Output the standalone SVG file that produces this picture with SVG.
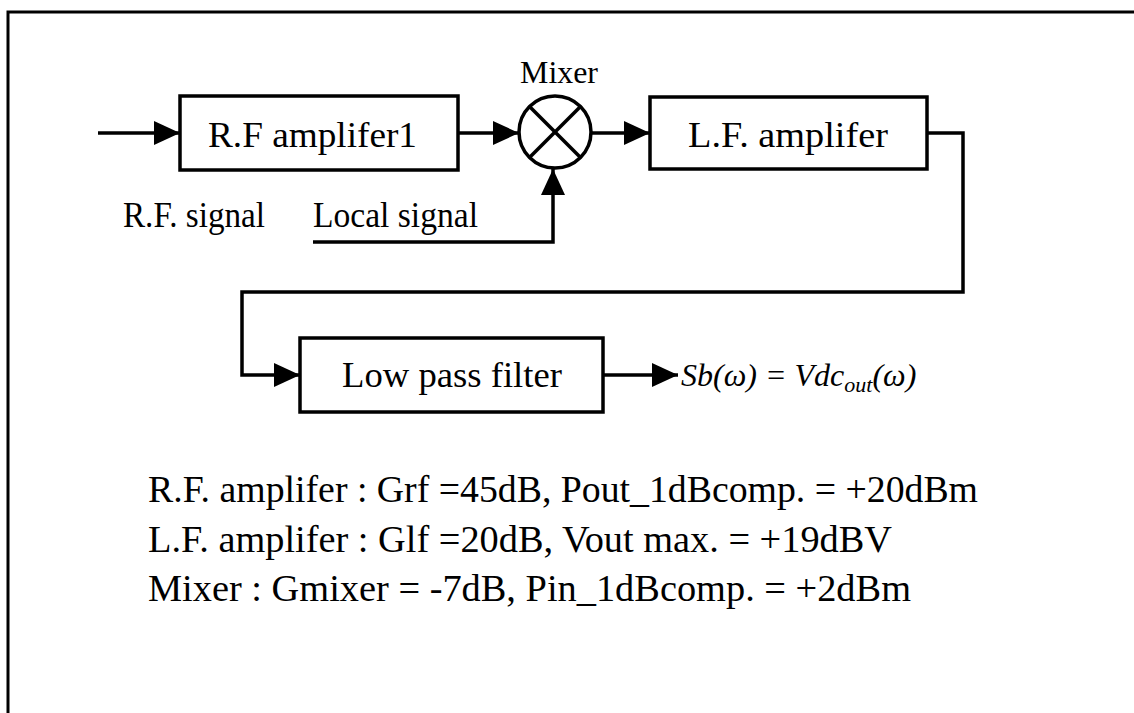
<svg xmlns="http://www.w3.org/2000/svg" width="1134" height="713" viewBox="0 0 1134 713">
<defs>
<style>
.box{fill:#fff;stroke:#000;stroke-width:3.5}
.ln{fill:none;stroke:#000;stroke-width:3.5}
.t{font-family:"Liberation Serif","Times New Roman",serif;font-size:36px;fill:#000}
.s{font-family:"Liberation Serif","Times New Roman",serif;font-size:38px;fill:#000}
.m{font-family:"Liberation Serif","Times New Roman",serif;font-size:32px;fill:#000}
.it{font-family:"Liberation Serif","Times New Roman",serif;font-size:32px;font-style:italic;fill:#000}
</style>
<marker id="ah" markerWidth="26" markerHeight="24" refX="26" refY="12" orient="auto" markerUnits="userSpaceOnUse">
<path d="M0,0 L26,12 L0,24 Z" fill="#000"/>
</marker>
</defs>
<rect width="1134" height="713" fill="#fff"/>
<rect x="8" y="12" width="1140" height="720" fill="none" stroke="#000" stroke-width="3"/>
<g id="connectors">
<line class="ln" x1="98" y1="133" x2="180" y2="133" marker-end="url(#ah)"/>
<line class="ln" x1="458" y1="133" x2="519" y2="133" marker-end="url(#ah)"/>
<line class="ln" x1="592" y1="133" x2="650" y2="133" marker-end="url(#ah)"/>
<polyline class="ln" points="313,242 553,242 553,169" marker-end="url(#ah)"/>
<polyline class="ln" points="927,133 963,133 963,292 242,292 242,375 300,375" marker-end="url(#ah)"/>
<line class="ln" x1="603" y1="375" x2="678" y2="375" marker-end="url(#ah)"/>
</g>
<g id="rf-amp">
<rect class="box" x="180" y="96" width="278" height="74"/>
<text class="t" x="208" y="147" textLength="209" lengthAdjust="spacingAndGlyphs">R.F amplifer1</text>
</g>
<g id="mixer">
<circle class="box" cx="555" cy="132" r="36"/>
<line class="ln" x1="529.5" y1="106.5" x2="580.5" y2="157.5"/>
<line class="ln" x1="580.5" y1="106.5" x2="529.5" y2="157.5"/>
<text class="m" x="520" y="83" textLength="78" lengthAdjust="spacingAndGlyphs">Mixer</text>
</g>
<g id="lf-amp">
<rect class="box" x="650" y="97" width="277" height="72"/>
<text class="t" x="688" y="147" textLength="200" lengthAdjust="spacingAndGlyphs">L.F. amplifer</text>
</g>
<g id="lpf">
<rect class="box" x="300" y="338" width="303" height="74"/>
<text class="t" x="342" y="387" textLength="220" lengthAdjust="spacingAndGlyphs">Low pass filter</text>
</g>
<g id="labels">
<text class="t" x="123" y="227" textLength="142" lengthAdjust="spacingAndGlyphs">R.F. signal</text>
<text class="t" x="313" y="227" textLength="165" lengthAdjust="spacingAndGlyphs">Local signal</text>
<text class="it" x="681" y="386">Sb(ω) = Vdc<tspan font-size="22" dy="6">out</tspan><tspan dy="-6">(ω)</tspan></text>
</g>
<g id="specs">
<text class="s" x="148" y="502" textLength="830" lengthAdjust="spacingAndGlyphs">R.F. amplifer : Grf =45dB, Pout_1dBcomp. = +20dBm</text>
<text class="s" x="148" y="552" textLength="744" lengthAdjust="spacingAndGlyphs">L.F. amplifer : Glf =20dB, Vout max. = +19dBV</text>
<text class="s" x="148" y="601" textLength="763" lengthAdjust="spacingAndGlyphs">Mixer : Gmixer = -7dB, Pin_1dBcomp. = +2dBm</text>
</g>
</svg>
